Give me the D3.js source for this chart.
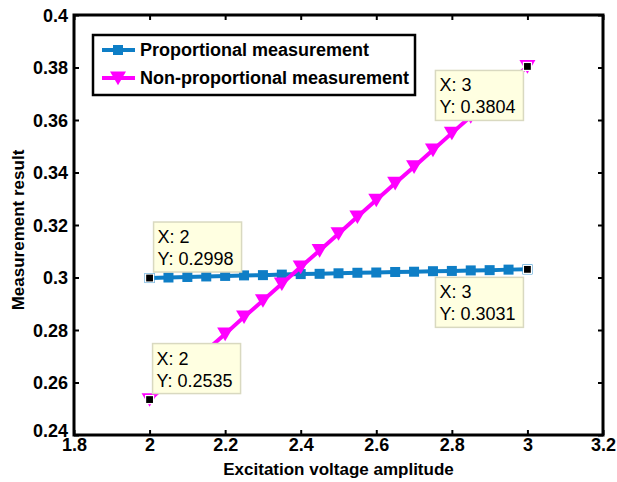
<!DOCTYPE html>
<html><head><meta charset="utf-8">
<script src="https://cdn.jsdelivr.net/npm/d3@7"></script>
<style>body{margin:0;background:#fff}svg{display:block}text{font-family:Arial,"Liberation Sans",sans-serif}</style>
</head><body><svg id="c" width="617" height="482"></svg>
<script>
const xValues = [2.00,2.05,2.10,2.15,2.20,2.25,2.30,2.35,2.40,2.45,2.50,2.55,2.60,2.65,2.70,2.75,2.80,2.85,2.90,2.95,3.00];
const proportional = [0.2998,0.3000,0.3002,0.3004,0.3006,0.3008,0.3009,0.3011,0.3013,0.3014,0.3016,0.3018,0.3019,0.3021,0.3022,0.3024,0.3025,0.3027,0.3028,0.3030,0.3031];
const nonProportional = [0.2535,0.2597,0.2660,0.2722,0.2785,0.2850,0.2912,0.2976,0.3040,0.3103,0.3167,0.3231,0.3295,0.3359,0.3422,0.3486,0.3550,0.3613,0.3677,0.3741,0.3804];
const xTicks = [1.8,2,2.2,2.4,2.6,2.8,3,3.2];
const yTicks = [0.24,0.26,0.28,0.3,0.32,0.34,0.36,0.38,0.4];
const seriesNames = ["Proportional measurement","Non-proportional measurement"];
const tips = [
  {x:2, y:0.2998, dx:4, dy:-56},
  {x:3, y:0.3804, dx:-92, dy:4},
  {x:3, y:0.3031, dx:-92, dy:8},
  {x:2, y:0.2535, dx:3, dy:-56}
];

const svg = d3.select("#c");
const L=74,R=603,T=15,B=435;
const x = d3.scaleLinear().domain([1.8,3.2]).range([L,R]);
const y = d3.scaleLinear().domain([0.24,0.4]).range([B,T]);
const blue="#0e7ec6", mag="#ff00ff";

const fmt = d=>String(+d.toFixed(2));
const ax = svg.append("g").attr("transform",`translate(0,${B})`).call(d3.axisBottom(x).tickValues(xTicks).tickFormat(fmt).tickSizeInner(-5).tickSizeOuter(0).tickPadding(3));
const ay = svg.append("g").attr("transform",`translate(${L},0)`).call(d3.axisLeft(y).tickValues(yTicks).tickFormat(fmt).tickSizeInner(-5).tickSizeOuter(0).tickPadding(6));
svg.append("g").attr("transform",`translate(0,${T})`).call(d3.axisTop(x).tickValues(xTicks).tickFormat("").tickSizeInner(-5).tickSizeOuter(0));
svg.append("g").attr("transform",`translate(${R},0)`).call(d3.axisRight(y).tickValues(yTicks).tickFormat("").tickSizeInner(-5).tickSizeOuter(0));
svg.selectAll(".domain").remove();
svg.selectAll(".tick line").attr("stroke","#000").attr("stroke-width",2);
svg.selectAll(".tick text").attr("font-size",18).attr("font-weight","bold").attr("fill","#000");
ay.selectAll(".tick text").attr("dy","0.35em");
ay.selectAll(".tick").filter(d=>d===0.24).select("text").attr("dy","0.1em");
svg.append("rect").attr("x",L).attr("y",T).attr("width",R-L).attr("height",B-T).attr("fill","none").attr("stroke","#000").attr("stroke-width",3);

svg.append("text").attr("x",(L+R)/2).attr("y",475).attr("text-anchor","middle").attr("font-size",17).attr("font-weight","bold").text("Excitation voltage amplitude");
svg.append("text").attr("transform",`translate(18,${(T+B)/2 + 5}) rotate(-90)`).attr("text-anchor","middle").attr("dy","0.35em").attr("font-size",17).attr("font-weight","bold").text("Measurement result");

const line = d3.line().x(d=>x(d[0])).y(d=>y(d[1]));
const pData = xValues.map((v,i)=>[v,proportional[i]]);
const nData = xValues.map((v,i)=>[v,nonProportional[i]]);
const tri = s=>`M${-s},${-s*0.8}L${s},${-s*0.8}L0,${s*0.9}Z`;

svg.append("path").datum(pData).attr("d",line).attr("fill","none").attr("stroke",blue).attr("stroke-width",4);
svg.append("g").selectAll("rect").data(pData).join("rect")
  .attr("x",d=>x(d[0])-5).attr("y",d=>y(d[1])-5).attr("width",10).attr("height",10).attr("fill",blue);
svg.append("path").datum(nData).attr("d",line).attr("fill","none").attr("stroke",mag).attr("stroke-width",4);
svg.append("g").selectAll("path").data(nData).join("path")
  .attr("transform",d=>`translate(${x(d[0])},${y(d[1])})`).attr("d",tri(8)).attr("fill",mag);

tips.forEach(t=>{
  const px=x(t.x), py=y(t.y);
  const g=svg.append("g");
  const bx=px+t.dx, by=py+t.dy;
  g.append("rect").attr("x",bx).attr("y",by).attr("width",88).attr("height",50).attr("fill","#ffffe1").attr("stroke","#d9d9c0").attr("stroke-width",1.5);
  g.append("text").attr("x",bx+4).attr("y",by+21).attr("font-size",18).text(`X: ${t.x}`);
  g.append("text").attr("x",bx+4).attr("y",by+43).attr("font-size",18).text(`Y: ${t.y.toFixed(4)}`);
  svg.append("rect").attr("x",px-4).attr("y",py-4).attr("width",8).attr("height",8).attr("fill","#000").attr("stroke","#fff").attr("stroke-width",1.2);
});

const lg = svg.append("g");
lg.append("rect").attr("x",93).attr("y",35).attr("width",322).attr("height",60).attr("fill","#fff").attr("stroke","#000").attr("stroke-width",2.5);
[[blue,"sq"],[mag,"tri"]].forEach((s,i)=>{
  const cy = 50 + i*28;
  lg.append("line").attr("x1",102).attr("x2",135).attr("y1",cy).attr("y2",cy).attr("stroke",s[0]).attr("stroke-width",4);
  if(s[1]==="sq") lg.append("rect").attr("x",113).attr("y",cy-5).attr("width",10).attr("height",10).attr("fill",s[0]);
  else lg.append("path").attr("transform",`translate(118,${cy})`).attr("d",tri(8)).attr("fill",s[0]);
  lg.append("text").attr("x",140).attr("y",cy+6).attr("font-size",18).attr("font-weight","bold").text(seriesNames[i]);
});
</script></body></html>
